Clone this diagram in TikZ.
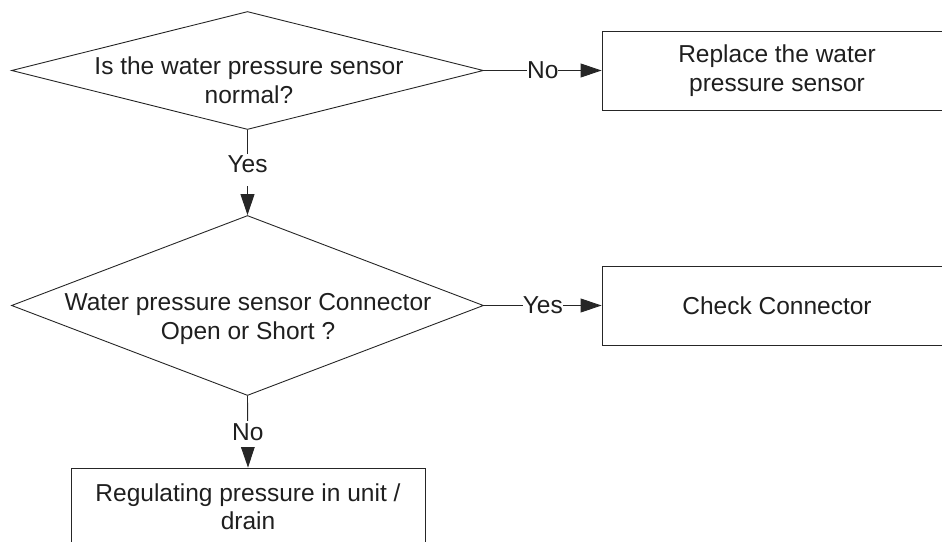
\documentclass[tikz,border=0pt]{standalone}
\usepackage{fontspec}
\setmainfont{Liberation Sans}
\usetikzlibrary{shapes.geometric,arrows.meta}
\newcommand{\fsz}{\fontsize{24.5pt}{28.5pt}\selectfont}
\begin{document}
\begin{tikzpicture}[x=1pt,y=-1pt,
  ink/.style={draw=black!85, line width=0.9pt},
  decision/.style={diamond, ink, inner sep=0pt, minimum width=472pt},
  txt/.style={align=center, font=\fsz, text=black!88, inner sep=0pt},
  procbox/.style={rectangle, ink, align=center, font=\fsz, text=black!88, inner sep=0pt},
  conn/.style={ink, -{Triangle[length=21pt,width=14pt]}},
  hlbl/.style={fill=white, inner xsep=0pt, inner ysep=2pt, font=\fsz, text=black!88},
  vlbl/.style={fill=white, inner xsep=1pt, inner ysep=2.5pt, font=\fsz, text=black!88}
]
\useasboundingbox (0,0) rectangle (942,541);

% decisions
\node[decision, minimum height=118pt] (d1) at (247.5,70.5) {};
\node[txt] (d1t) at (249,80) {Is the water pressure sensor\\normal?};
\node[decision, minimum height=180pt] (d2) at (247.5,305.5) {};
\node[txt] (d2t) at (248,319) {Water pressure sensor Connector\\Open or Short ?};

% process boxes
\node[procbox, minimum width=350pt, minimum height=79pt] (b1) at (777,70.5) {Replace the water\\pressure sensor};
\node[procbox, minimum width=350pt, minimum height=79pt] (b2) at (777,305.5) {Check Connector};
\node[procbox, minimum width=354pt, minimum height=77pt] (b3) at (248,506.5) {Regulating pressure in unit /\\drain};

% connectors
\draw[conn] (d1.east) -- node[hlbl] {No} (b1.west);
\draw[conn] (d2.east) -- node[hlbl] {Yes} (b2.west);
\draw[conn] (d1.south) -- node[vlbl, pos=0.468, text depth=10.5pt] {Yes} (d2.north);
\draw[conn] (d2.south) -- node[vlbl, pos=0.528, text depth=4pt] {No} (b3.north);
\end{tikzpicture}
\end{document}
